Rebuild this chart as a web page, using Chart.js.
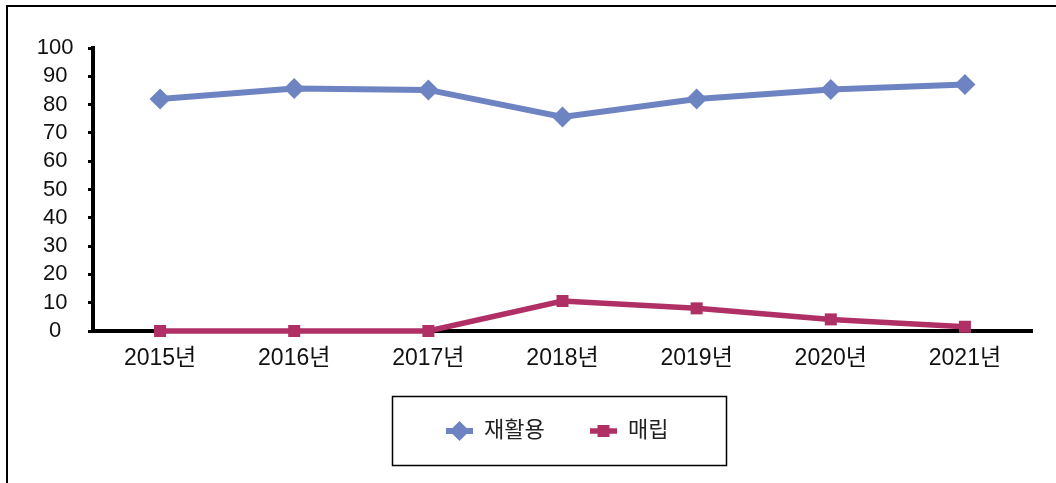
<!DOCTYPE html>
<html>
<head>
<meta charset="utf-8">
<script src="https://cdn.jsdelivr.net/npm/chart.js@4/dist/chart.umd.min.js"></script>
<style>
  html, body { margin: 0; padding: 0; background: #fff; }
  #wrap { width: 1056px; height: 483px; position: relative; }
</style>
</head>
<body>
<div id="wrap"><canvas id="c" width="1056" height="483"></canvas></div>
<script>
const years = ['2015년', '2016년', '2017년', '2018년', '2019년', '2020년', '2021년'];
const recycleLabel = '재활용';
const recycleValues = [82.0, 85.7, 85.2, 75.6, 82.0, 85.3, 87.1];
const landfillLabel = '매립';
const landfillValues = [0, 0, 0, 10.6, 8.0, 4.1, 1.5];
const yTicks = [0, 10, 20, 30, 40, 50, 60, 70, 80, 90, 100];

const FONT = "'Liberation Sans', Arial, 'Noto Sans CJK KR', sans-serif";

// Frame around the whole figure plus the boxed legend under the plot
const framePlugin = {
  id: 'frame',
  beforeDraw(chart) {
    const ctx = chart.ctx;
    ctx.save();
    ctx.fillStyle = '#fff';
    ctx.fillRect(0, 0, chart.width, chart.height);
    ctx.strokeStyle = '#000';
    ctx.lineWidth = 2;
    ctx.strokeRect(7, 6, chart.width + 20, chart.height + 20);
    ctx.restore();
  },
  afterDraw(chart) {
    const ctx = chart.ctx;
    ctx.save();
    ctx.strokeStyle = '#000';
    ctx.lineWidth = 1.5;
    ctx.strokeRect(392.5, 396.5, 334, 69);

    const items = [
      { x: 446, ds: chart.data.datasets[0] },
      { x: 590, ds: chart.data.datasets[1] }
    ];
    const cy = 431;
    items.forEach(it => {
      const ds = it.ds;
      ctx.strokeStyle = ds.borderColor;
      ctx.lineWidth = ds.borderWidth;
      ctx.beginPath();
      ctx.moveTo(it.x, cy);
      ctx.lineTo(it.x + 27, cy);
      ctx.stroke();
      ctx.fillStyle = ds.pointBackgroundColor;
      const mx = it.x + 13.5;
      if (ds.pointStyle === 'rectRot') {
        const r = 10;
        ctx.beginPath();
        ctx.moveTo(mx - r, cy);
        ctx.lineTo(mx, cy - r);
        ctx.lineTo(mx + r, cy);
        ctx.lineTo(mx, cy + r);
        ctx.closePath();
        ctx.fill();
      } else {
        ctx.fillRect(mx - 6, cy - 6, 12, 12);
      }
      ctx.fillStyle = '#222';
      ctx.font = '22px ' + FONT;
      ctx.textBaseline = 'middle';
      ctx.textAlign = 'left';
      ctx.fillText(ds.label, it.x + 38, cy);
    });
    ctx.restore();
  }
};

new Chart(document.getElementById('c'), {
  type: 'line',
  data: {
    labels: years,
    datasets: [
      {
        label: recycleLabel,
        data: recycleValues,
        borderColor: '#6E84C2',
        backgroundColor: '#6E84C2',
        pointBackgroundColor: '#6E84C2',
        pointBorderColor: '#6E84C2',
        borderWidth: 6,
        pointStyle: 'rectRot',
        pointRadius: 10.5,
        pointBorderWidth: 0,
        tension: 0,
        clip: false
      },
      {
        label: landfillLabel,
        data: landfillValues,
        borderColor: '#B03065',
        backgroundColor: '#B03065',
        pointBackgroundColor: '#B03065',
        pointBorderColor: '#B03065',
        borderWidth: 5.5,
        pointStyle: 'rect',
        pointRadius: 8.5,
        pointBorderWidth: 0,
        tension: 0,
        clip: false
      }
    ]
  },
  options: {
    responsive: false,
    animation: false,
    devicePixelRatio: 1,
    layout: { padding: { left: 0, top: 48, right: 24, bottom: 0 } },
    plugins: {
      legend: { display: false },
      tooltip: { enabled: false }
    },
    scales: {
      x: {
        type: 'category',
        offset: true,
        afterFit(scale) { scale.height = 152; },
        grid: { display: true, drawOnChartArea: false, drawTicks: false },
        border: { display: true, color: '#000', width: 4 },
        ticks: {
          color: '#111',
          padding: 14,
          maxRotation: 0,
          autoSkip: false,
          font: { family: FONT, size: 23 }
        }
      },
      y: {
        min: 0,
        max: 100,
        afterFit(scale) { scale.width = 93; },
        afterBuildTicks(scale) { scale.ticks = yTicks.map(v => ({ value: v })); },
        grid: { display: true, drawOnChartArea: false, drawTicks: true, tickLength: 5, color: '#000', lineWidth: 3 },
        border: { display: true, color: '#000', width: 4 },
        ticks: {
          color: '#111',
          padding: 14.5,
          stepSize: 10,
          autoSkip: false,
          crossAlign: 'center',
          font: { family: FONT, size: 22 }
        }
      }
    }
  },
  plugins: [framePlugin]
});
</script>
</body>
</html>
